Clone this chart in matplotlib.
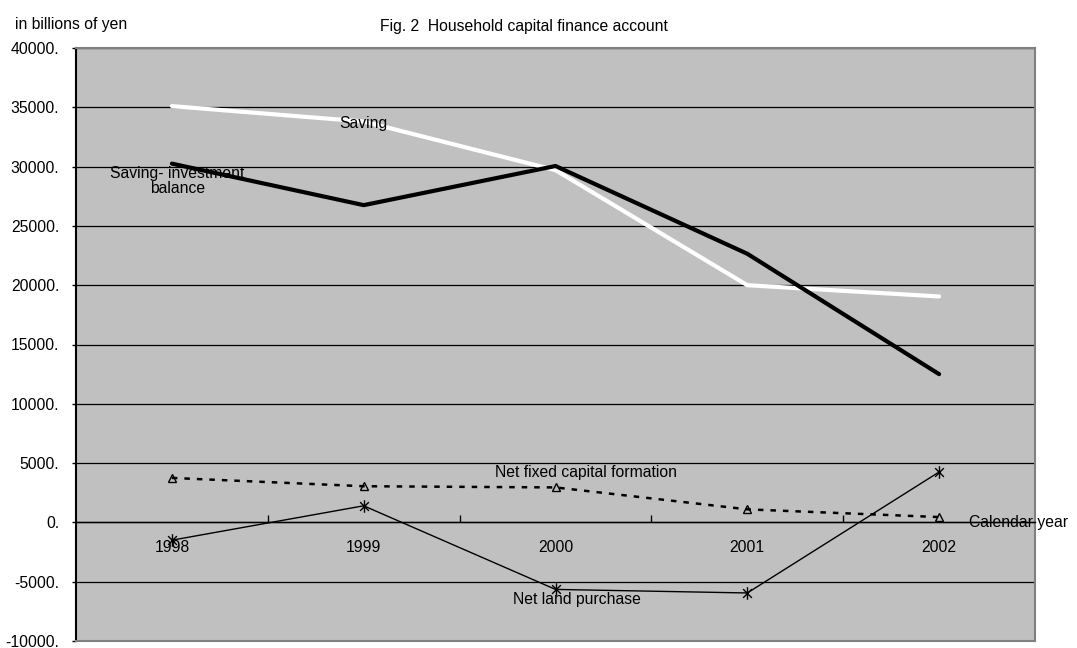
import matplotlib
matplotlib.use("Agg")
import matplotlib.pyplot as plt
from matplotlib.ticker import FixedLocator, FuncFormatter
from matplotlib.path import Path

plt.rcParams['font.family'] = ['Liberation Sans', 'DejaVu Sans']

years = ["1998", "1999", "2000", "2001", "2002"]
saving = [35100, 33800, 29700, 20000, 19050]
si_balance = [30250, 26750, 30050, 22650, 12500]
net_fixed_capital = [3750, 3050, 2950, 1100, 450]
net_land = [-1500, 1400, -5650, -5950, 4250]
y_ticks = list(range(-10000, 40001, 5000))

# Excel-style star marker: an X plus a vertical stroke
star = Path([(-0.7, -0.7), (0.7, 0.7), (-0.7, 0.7), (0.7, -0.7), (0, -1), (0, 1)],
            [Path.MOVETO, Path.LINETO, Path.MOVETO, Path.LINETO, Path.MOVETO, Path.LINETO])

FS = 11.3
fig = plt.figure(figsize=(10.77, 6.48), dpi=100)
ax = fig.add_axes([76/1077, 1 - 641/648, (1035-76)/1077, (641-48)/648])
ax.set_facecolor('#C0C0C0')

x = list(range(len(years)))
ax.plot(x, saving, color='white', lw=3.0, solid_capstyle='round', zorder=4)
ax.plot(x, si_balance, color='black', lw=3.0, solid_capstyle='round', zorder=4)
ax.plot(x, net_fixed_capital, color='black', lw=1.8, linestyle=(0, (2.2, 2.8)),
        marker='^', markersize=5.5, markerfacecolor='none', markeredgecolor='black',
        markeredgewidth=1.0, zorder=4)
ax.plot(x, net_land, color='black', lw=1.0, marker=star, markersize=9,
        markeredgewidth=1.0, markerfacecolor='none', markeredgecolor='black', zorder=4)

ax.set_xlim(-0.5, len(years) - 0.5)
ax.set_ylim(-10000, 40000)

# y axis
ax.yaxis.set_major_locator(FixedLocator(y_ticks))
ax.yaxis.set_major_formatter(FuncFormatter(lambda v, p: f"{int(v)}."))
ax.tick_params(axis='y', direction='out', length=3, width=1, pad=9, labelsize=FS,
               colors='black')
ax.yaxis.grid(True, color='black', lw=0.9)
ax.set_axisbelow(True)

# x axis at zero
ax.spines['bottom'].set_position(('data', 0))
ax.spines['bottom'].set_color('black')
ax.spines['bottom'].set_linewidth(1.0)
ax.set_xticks([i + 0.5 for i in range(len(years) - 1)])
ax.set_xticklabels([])
ax.set_xticks(x, minor=True)
ax.set_xticklabels(years, minor=True)
ax.tick_params(axis='x', which='major', direction='in', length=5, width=1, color='black')
ax.tick_params(axis='x', which='minor', length=0, pad=13, labelsize=FS)

ax.spines['left'].set_color('black')
ax.spines['left'].set_linewidth(1.5)
for s in ('top', 'right'):
    ax.spines[s].set_color('#808080')
    ax.spines[s].set_linewidth(1.5)
ax.plot([0, 1], [0, 0], transform=ax.transAxes, color='#808080', lw=1.5,
        clip_on=False, zorder=5)

# annotations
ax.text(1.0, 33650, "Saving", ha='center', va='center', fontsize=FS, zorder=6)
ax.text(0.03, 28800, "Saving- investment\nbalance", ha='center', va='center',
        fontsize=FS, zorder=6, linespacing=1.05)
ax.text(2.16, 4200, "Net fixed capital formation", ha='center', va='center',
        fontsize=FS, zorder=6)
ax.text(2.11, -6500, "Net land purchase", ha='center', va='center', fontsize=FS, zorder=6)
ax.text(4.155, -30, "Calendar year", ha='left', va='center', fontsize=FS,
        clip_on=False, zorder=1)

fig.text(15/1077, 1 - 24/648, "in billions of yen", ha='left', va='center', fontsize=FS)
fig.text(524/1077, 1 - 27/648, "Fig. 2  Household capital finance account",
         ha='center', va='center', fontsize=FS)

fig.savefig("out.png", dpi=100)
